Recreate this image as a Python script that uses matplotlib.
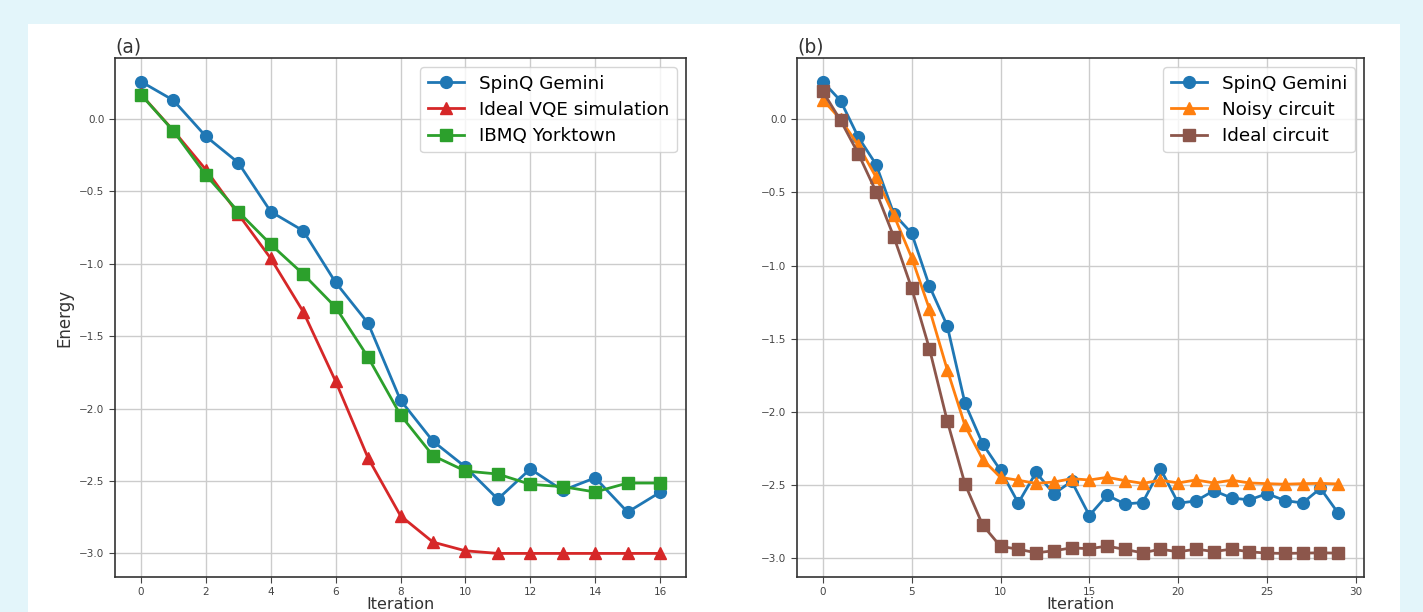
import matplotlib.pyplot as plt
import matplotlib.patches as mpatches
import numpy as np

# panel (a)
iter_a = np.arange(17)
gemini_a = [0.258, 0.129, -0.12, -0.302, -0.64, -0.772, -1.129, -1.41, -1.942, -2.225,
            -2.403, -2.625, -2.417, -2.565, -2.478, -2.715, -2.578]
ideal_vqe = [0.17, -0.08, -0.35, -0.657, -0.963, -1.33, -1.811, -2.341, -2.74, -2.922,
             -2.982, -3.0, -3.0, -3.0, -3.0, -3.0, -3.0]
ibmq = [0.168, -0.083, -0.387, -0.64, -0.866, -1.071, -1.3, -1.645, -2.044, -2.325,
        -2.431, -2.452, -2.523, -2.539, -2.576, -2.514, -2.514]

# panel (b)
iter_b = np.arange(30)
gemini_b = [0.258, 0.127, -0.122, -0.309, -0.647, -0.779, -1.14, -1.411, -1.941, -2.22,
            -2.40, -2.623, -2.414, -2.561, -2.475, -2.709, -2.57, -2.63, -2.62, -2.389,
            -2.625, -2.609, -2.539, -2.589, -2.602, -2.559, -2.607, -2.623, -2.523, -2.693]
noisy = [0.134, 0.0, -0.177, -0.396, -0.657, -0.945, -1.297, -1.711, -2.093, -2.327,
         -2.448, -2.468, -2.489, -2.48, -2.457, -2.466, -2.448, -2.47, -2.489, -2.468,
         -2.486, -2.466, -2.486, -2.468, -2.486, -2.491, -2.495, -2.491, -2.489, -2.493]
ideal_circ = [0.191, -0.007, -0.235, -0.495, -0.804, -1.154, -1.568, -2.061, -2.493, -2.775,
              -2.92, -2.939, -2.964, -2.95, -2.93, -2.936, -2.918, -2.941, -2.964, -2.939,
              -2.957, -2.939, -2.955, -2.939, -2.957, -2.966, -2.968, -2.966, -2.964, -2.966]

fig = plt.figure(figsize=(14.23, 6.12), dpi=100, facecolor='#e3f5fa')
# white card behind the plots
card = mpatches.Rectangle((28 / 1423, 0), (1400 - 28) / 1423, (612 - 24) / 612,
                          transform=fig.transFigure, facecolor='white',
                          edgecolor='none', zorder=-10)
fig.add_artist(card)

ax1 = fig.add_axes([115 / 1423, 35 / 612, 571 / 1423, 519 / 612])
ax2 = fig.add_axes([797 / 1423, 35 / 612, 567 / 1423, 519 / 612])

kw = dict(linewidth=2, markersize=8.5)
ax1.plot(iter_a, gemini_a, '-o', color='#1f77b4', label='SpinQ Gemini', **kw)
ax1.plot(iter_a, ideal_vqe, '-^', color='#d62728', label='Ideal VQE simulation', **kw)
ax1.plot(iter_a, ibmq, '-s', color='#2ca02c', label='IBMQ Yorktown', **kw)
ax1.set_xticks(np.arange(0, 17, 2))
ax1.set_ylabel('Energy', fontsize=12, color='#333333')

ax2.plot(iter_b, gemini_b, '-o', color='#1f77b4', label='SpinQ Gemini', **kw)
ax2.plot(iter_b, noisy, '-^', color='#ff7f0e', label='Noisy circuit', **kw)
ax2.plot(iter_b, ideal_circ, '-s', color='#8c564b', label='Ideal circuit', **kw)
ax2.set_xticks(np.arange(0, 31, 5))

for ax, tag in [(ax1, '(a)'), (ax2, '(b)')]:
    ax.set_yticks([0.0, -0.5, -1.0, -1.5, -2.0, -2.5, -3.0])
    ax.grid(True, color='#cccccc', linewidth=1)
    ax.set_axisbelow(True)
    ax.tick_params(labelsize=7.5, colors='#444444', length=4)
    for sp in ax.spines.values():
        sp.set_color('#333333')
        sp.set_linewidth(1.2)
    ax.set_title(tag, loc='left', fontsize=13.5, color='#333333', pad=4)
    ax.set_xlabel('Iteration', fontsize=11.5, color='#333333', labelpad=0)
    ax.legend(loc='upper right', fontsize=13.25, handlelength=2.0, labelspacing=0.45,
              borderpad=0.4, handletextpad=0.8)

plt.savefig('out.png', dpi=100, facecolor=fig.get_facecolor())
